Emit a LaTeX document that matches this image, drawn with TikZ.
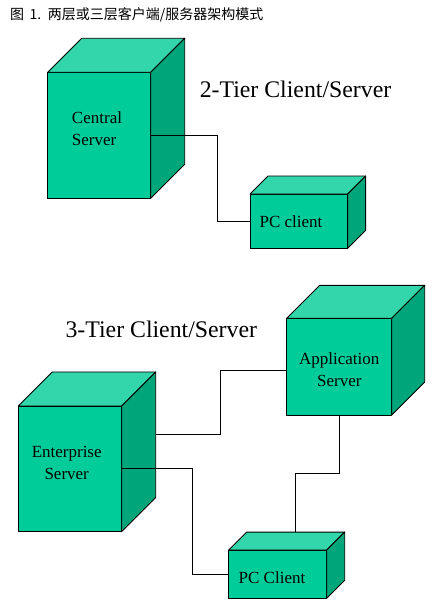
\documentclass[tikz,border=0pt]{standalone}
\usepackage{fontspec}
\setmainfont{Liberation Serif}
\newfontfamily\cjkfont{Noto Sans CJK SC}
\usepackage{xcolor}
\usepackage{tikz}

\definecolor{frontgreen}{RGB}{0,204,153}
\definecolor{topgreen}{RGB}{51,214,170}
\definecolor{sidegreen}{RGB}{0,166,122}

\tikzset{
  cubefront/.style={draw, fill=frontgreen, line width=0.9pt, rectangle, inner sep=0pt, outer sep=0pt},
  cubeface/.style={draw, line width=0.9pt, line join=round},
  lbl/.style={font=\fontsize{17}{22}\selectfont, inner sep=0pt},
  title/.style={font=\fontsize{23.8}{26}\selectfont, inner sep=0pt},
  wire/.style={line width=0.9pt}
}

\begin{document}
\begin{tikzpicture}[x=1pt, y=-1pt]
                \useasboundingbox (0,0) rectangle (431,612);

                \node[font=\cjkfont\fontsize{14}{16}\selectfont, anchor=west, inner sep=0pt] (caption) at (10,15) {图 \,1.\, 两层或三层客户端/服务器架构模式};

                % 2-tier
                \node[title] (twotier) at (295.5,89) {2-Tier Client/Server};
                \node[cubefront, minimum width=103, minimum height=126] (central) at (99.2,135.3) {};
                \node[cubefront, minimum width=97.7, minimum height=54.3] (pctwo) at (298.8,221.2) {};

                % 3-tier
                \node[title] (threetier) at (161.3,329.3) {3-Tier Client/Server};
                \node[cubefront, minimum width=105, minimum height=96.7] (app) at (339.2,366.7) {};
                \node[cubefront, minimum width=103.4, minimum height=125.7] (ent) at (70,468.8) {};
                \node[cubefront, minimum width=98, minimum height=48.3] (pcthree) at (277.7,574.2) {};

                \foreach \n/\d in {central/34, pctwo/18, app/33, ent/34, pcthree/18} {
                    \draw[cubeface, fill=topgreen] (\n.north west) -- ++(\d,-\d)
                        -- ([shift={(\d,-\d)}]\n.north east) -- (\n.north east) -- cycle;
                    \draw[cubeface, fill=sidegreen] (\n.north east) -- ++(\d,-\d)
                        -- ([shift={(\d,-\d)}]\n.south east) -- (\n.south east) -- cycle;
                }

                \node[lbl, align=left] (centraltxt) at (97,129) {Central\\Server};
                \node[lbl] (pctwotxt) at (291,222) {PC client};
                \node[lbl, align=center] (apptxt) at (339.3,369.5) {Application\\Server};
                \node[lbl, align=center] (enttxt) at (66.7,463.3) {Enterprise\\Server};
                \node[lbl] (pcthreetxt) at (272,577.7) {PC Client};

                \coordinate (entback) at ([shift={(34,-34)}]ent.east);
                \coordinate (pcthreetop) at ([shift={(18,-18)}]pcthree.north);

                \draw[wire] (central.east) -- ++(67,0) |- (pctwo.west);
                \draw[wire] (entback) -- ++(65,0) |- ([yshift=-4pt]app.west);
                \draw[wire] (ent.east) -- ++(71,0) |- (pcthree.west);
                \draw[wire] (app.south) -- ++(0,58) -| (pcthreetop);
            \end{tikzpicture}
\end{document}
